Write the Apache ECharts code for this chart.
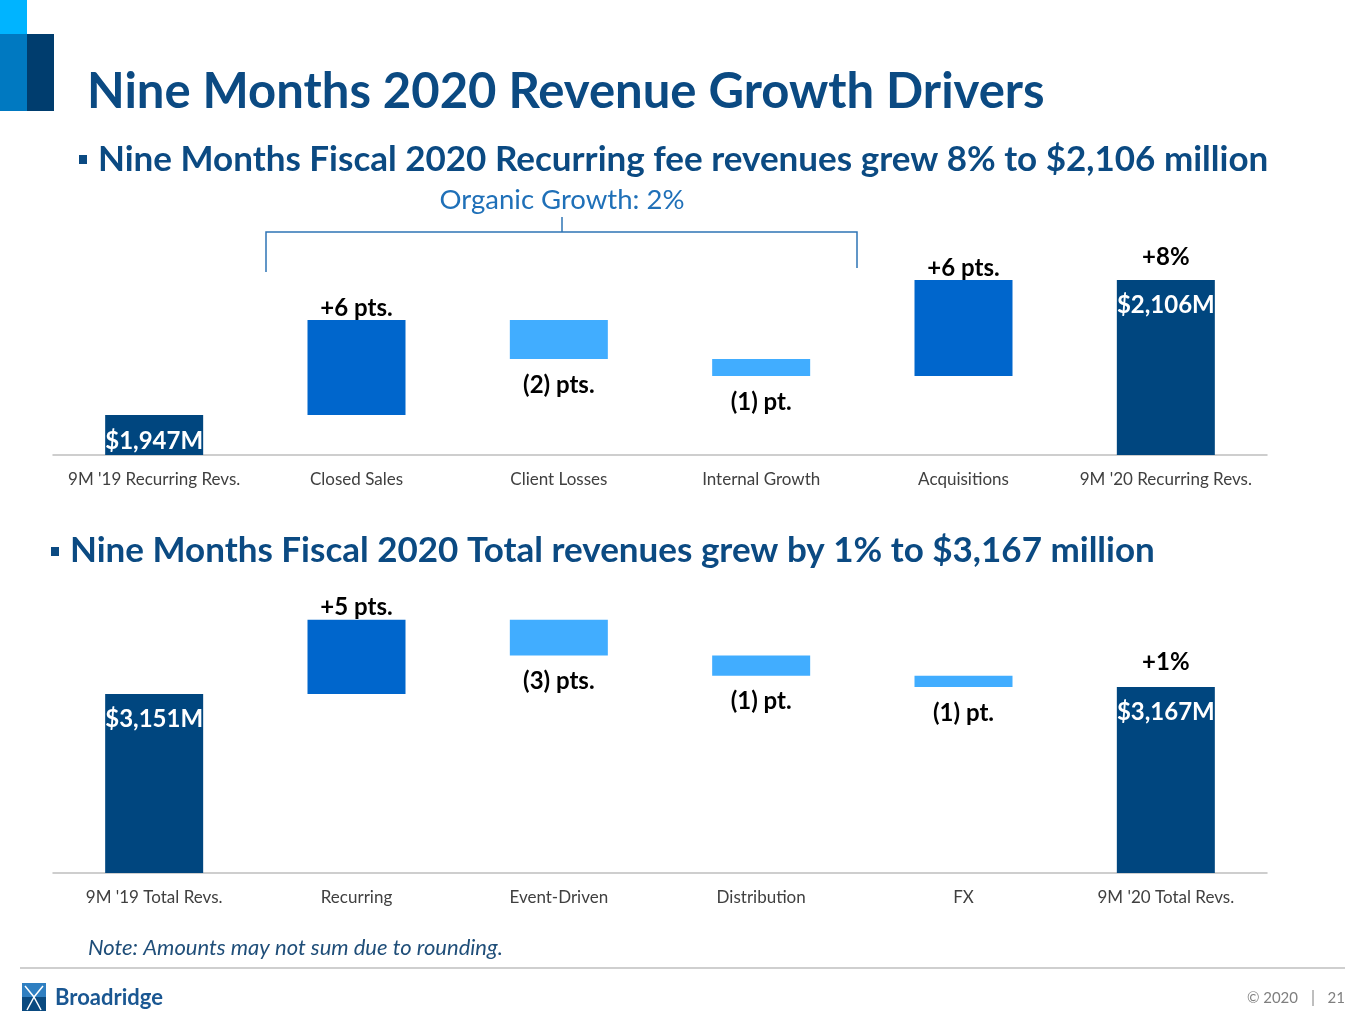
<!DOCTYPE html>
<html>
<head>
<meta charset="utf-8">
<title>Nine Months 2020 Revenue Growth Drivers</title>
<script src="https://cdn.jsdelivr.net/npm/echarts@6/dist/echarts.min.js"></script>
<style>
  html, body { margin: 0; padding: 0; background: #fff; }
  #slide { width: 1365px; height: 1024px; }
</style>
</head>
<body>
<div id="slide"></div>
<script>
// recurring fee revenues ($M) - first and last are totals, middle are steps
var recurCats = ["9M '19 Recurring Revs.", 'Closed Sales', 'Client Losses', 'Internal Growth', 'Acquisitions', "9M '20 Recurring Revs."];
var recurVals = [1947, 112, -46, -20, 113, 2106];
var recurLabels = ['$1,947M', '+6 pts.', '(2) pts.', '(1) pt.', '+6 pts.', '$2,106M'];
var recurGrowth = '+8%';

// total revenues ($M)
var totalCats = ["9M '19 Total Revs.", 'Recurring', 'Event-Driven', 'Distribution', 'FX', "9M '20 Total Revs."];
var totalVals = [3151, 170, -82, -46, -26, 3167];
var totalLabels = ['$3,151M', '+5 pts.', '(3) pts.', '(1) pt.', '(1) pt.', '$3,167M'];
var totalGrowth = '+1%';

var NAVY = '#00467f';
var UP = '#0066cc';
var DOWN = '#41adff';
var FONT = 'Lato, "Open Sans", sans-serif';

function labelFont() {
    return { fontSize: 24, fontWeight: 'bold', fontFamily: FONT };
}

// build the invisible base + visible piece for a waterfall
function buildWaterfall(vals, labels, firstLabelPos, growthText, growthDist) {
    var base = [], shown = [], cap = [];
    var running = 0;
    for (var i = 0; i < vals.length; i++) {
        var v = vals[i];
        var isTotal = (i === 0 || i === vals.length - 1);
        if (isTotal) {
            base.push(0);
            running = v;
            shown.push({
                value: v,
                itemStyle: { color: NAVY },
                label: {
                    show: true, formatter: labels[i], color: '#fff',
                    position: i === 0 ? firstLabelPos : 'insideTop',
                    distance: i === 0 && firstLabelPos === 'insideBottom' ? 2 : 13
                }
            });
        } else if (v >= 0) {
            base.push(running);
            running += v;
            shown.push({
                value: v,
                itemStyle: { color: UP },
                label: { show: true, formatter: labels[i], color: '#000', position: 'top', distance: 0 }
            });
        } else {
            running += v;
            base.push(running);
            shown.push({
                value: -v,
                itemStyle: { color: DOWN },
                label: { show: true, formatter: labels[i], color: '#000', position: 'bottom', distance: 14 }
            });
        }
        // zero-height cap on the final total carries the growth text
        if (i === vals.length - 1) {
            var gl = labelFont();
            gl.show = true;
            gl.formatter = growthText;
            gl.color = '#000';
            gl.position = 'top';
            gl.distance = growthDist;
            cap.push({ value: 0, label: gl });
        } else {
            cap.push('-');
        }
    }
    return { base: base, shown: shown, cap: cap };
}

var wf1 = buildWaterfall(recurVals, recurLabels, 'insideBottom', recurGrowth, 11);
var wf2 = buildWaterfall(totalVals, totalLabels, 'insideTop', totalGrowth, 13);

function makeX(idx, cats) {
    return {
        type: 'category', gridIndex: idx, data: cats,
        axisLine: { lineStyle: { color: '#bfbfbf', width: 1.5 } },
        axisTick: { alignWithLabel: true, length: 6, lineStyle: { color: '#bfbfbf' } },
        axisLabel: { color: '#404040', fontSize: 17, fontFamily: FONT, margin: 16, interval: 0 }
    };
}
function makeY(idx, min, max) {
    return {
        type: 'value', gridIndex: idx, min: min, max: max, show: false,
        splitLine: { show: false }
    };
}

function waterfallSeries(idx, stack, wf) {
    return [
        {
            type: 'bar', xAxisIndex: idx, yAxisIndex: idx, stack: stack, barWidth: 98,
            itemStyle: { color: 'transparent' }, data: wf.base, silent: true
        },
        {
            type: 'bar', xAxisIndex: idx, yAxisIndex: idx, stack: stack, barWidth: 98,
            label: labelFont(), data: wf.shown
        },
        {
            type: 'bar', xAxisIndex: idx, yAxisIndex: idx, stack: stack, barWidth: 98,
            itemStyle: { color: 'transparent' }, label: labelFont(), data: wf.cap
        }
    ];
}

var myChart = echarts.init(document.getElementById('slide'));
var option = {
    animation: false,
    grid: [
        { left: 53, right: 98, top: 230, height: 225 },
        { left: 53, right: 98, top: 600, height: 273 }
    ],
    xAxis: [makeX(0, recurCats), makeX(1, totalCats)],
    yAxis: [makeY(0, 1900, 2165), makeY(1, 2742, 3366)],
    series: waterfallSeries(0, 'r', wf1).concat(waterfallSeries(1, 't', wf2)),
    graphic: [
        // corner blocks
        { type: 'rect', shape: { x: 0, y: 0, width: 27, height: 34 }, style: { fill: '#00b4ff' } },
        { type: 'rect', shape: { x: 0, y: 34, width: 27, height: 77 }, style: { fill: '#0079c1' } },
        { type: 'rect', shape: { x: 27, y: 34, width: 27, height: 77 }, style: { fill: '#003d6e' } },
        // title + bullets
        { type: 'text', x: 87, y: 92, style: { text: 'Nine Months 2020 Revenue Growth Drivers', fill: '#0b4a82', font: 'bold 49px ' + FONT, textVerticalAlign: 'middle' } },
        { type: 'rect', shape: { x: 79, y: 155, width: 8, height: 9 }, style: { fill: '#0b4a82' } },
        { type: 'text', x: 98, y: 160, style: { text: 'Nine Months Fiscal 2020 Recurring fee revenues grew 8% to $2,106 million', fill: '#0b4a82', font: 'bold 35px ' + FONT, textVerticalAlign: 'middle' } },
        { type: 'text', x: 562, y: 200, style: { text: 'Organic Growth: 2%', fill: '#1f70b8', font: '27.5px ' + FONT, textAlign: 'center', textVerticalAlign: 'middle' } },
        // organic growth bracket
        { type: 'polyline', shape: { points: [[266, 272], [266, 232], [857, 232], [857, 268]] }, style: { stroke: '#2e74b5', lineWidth: 1.5, fill: null } },
        { type: 'line', shape: { x1: 562, y1: 217, x2: 562, y2: 232 }, style: { stroke: '#2e74b5', lineWidth: 1.5 } },
        { type: 'rect', shape: { x: 51, y: 547, width: 8, height: 9 }, style: { fill: '#0b4a82' } },
        { type: 'text', x: 70, y: 551, style: { text: 'Nine Months Fiscal 2020 Total revenues grew by 1% to $3,167 million', fill: '#0b4a82', font: 'bold 35px ' + FONT, textVerticalAlign: 'middle' } },
        // footer
        { type: 'text', x: 88, y: 948, style: { text: 'Note: Amounts may not sum due to rounding.', fill: '#1f4e79', font: 'italic 22px ' + FONT, textVerticalAlign: 'middle' } },
        { type: 'line', shape: { x1: 20, y1: 968, x2: 1345, y2: 968 }, style: { stroke: '#bfbfbf', lineWidth: 1.5 } },
        { type: 'rect', shape: { x: 22, y: 983, width: 24, height: 14 }, style: { fill: '#2f7fc1' } },
        { type: 'rect', shape: { x: 22, y: 997, width: 24, height: 14 }, style: { fill: '#0a4a80' } },
        { type: 'polyline', shape: { points: [[25, 986], [34, 997], [43, 986]] }, style: { stroke: '#fff', lineWidth: 1.5, fill: null } },
        { type: 'polyline', shape: { points: [[27, 1010], [34, 997], [41, 1010]] }, style: { stroke: '#fff', lineWidth: 1.5, fill: null } },
        { type: 'text', x: 55, y: 998, style: { text: 'Broadridge', fill: '#1a5792', font: 'bold 22px ' + FONT, textVerticalAlign: 'middle' } },
        { type: 'text', x: 1298, y: 998, style: { text: '\u00a9 2020', fill: '#7f7f7f', font: '15px ' + FONT, textAlign: 'right', textVerticalAlign: 'middle' } },
        { type: 'line', shape: { x1: 1313, y1: 990, x2: 1313, y2: 1006 }, style: { stroke: '#7f7f7f', lineWidth: 1 } },
        { type: 'text', x: 1345, y: 998, style: { text: '21', fill: '#7f7f7f', font: '15px ' + FONT, textAlign: 'right', textVerticalAlign: 'middle' } }
    ]
};

myChart.setOption(option);
</script>
</body>
</html>
